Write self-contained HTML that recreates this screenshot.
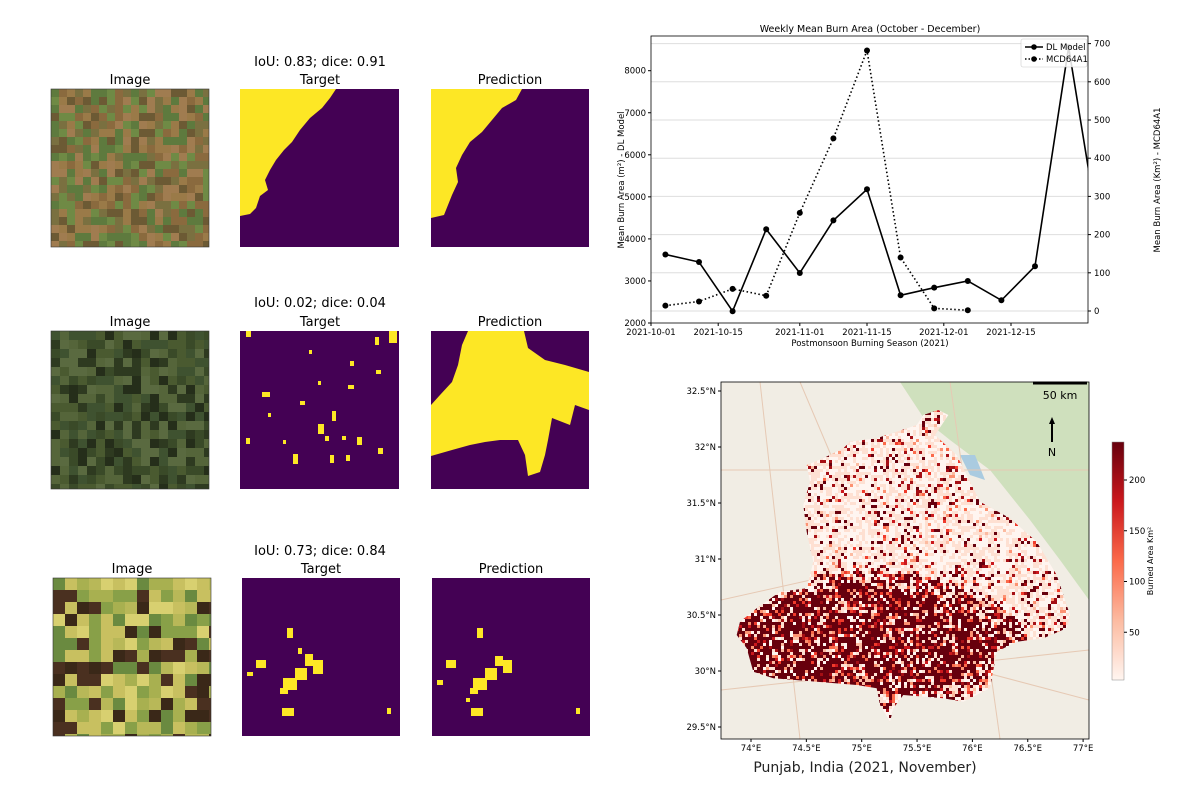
<!DOCTYPE html>
<html><head><meta charset="utf-8"><style>
body{margin:0;background:#fff;}
svg{display:block;font-family:"DejaVu Sans","Liberation Sans",sans-serif;}
</style></head><body>
<svg id="fig" width="1200" height="800" viewBox="0 0 1200 800" xmlns="http://www.w3.org/2000/svg">
<defs>
<clipPath id="lineClip"><rect x="651" y="36" width="437" height="287"/></clipPath>
<clipPath id="mapClip"><rect x="721" y="382" width="368" height="357"/></clipPath>
<clipPath id="punjabClip"><polygon id="punjabPoly" points=""/></clipPath>
<linearGradient id="cbar" x1="0" y1="1" x2="0" y2="0">
<stop offset="0" stop-color="#fff5f0"/><stop offset="0.25" stop-color="#fcbba1"/><stop offset="0.5" stop-color="#fb6a4a"/><stop offset="0.75" stop-color="#cb181d"/><stop offset="1" stop-color="#67000d"/>
</linearGradient>
</defs>

<g id="left-panels" font-size="13" fill="#000" text-anchor="middle">
<text x="320" y="66">IoU: 0.83; dice: 0.91</text>
<text x="130" y="84">Image</text>
<text x="320" y="84">Target</text>
<text x="510" y="84">Prediction</text>
<text x="320" y="307">IoU: 0.02; dice: 0.04</text>
<text x="130" y="326">Image</text>
<text x="320" y="326">Target</text>
<text x="510" y="326">Prediction</text>
<text x="320" y="555">IoU: 0.73; dice: 0.84</text>
<text x="132" y="573">Image</text>
<text x="321" y="573">Target</text>
<text x="511" y="573">Prediction</text>
</g>
<g id="imgs"></g>

<g>
<rect x="240" y="89" width="159" height="158" fill="#440154"/>
<polygon fill="#fde725" points="240,89 336,89 330,98 322,108 310,118 300,130 292,142 284,150 276,160 270,170 265,180 268,190 260,196 256,208 250,214 240,216"/>
</g>
<g>
<rect x="431" y="89" width="158" height="158" fill="#440154"/>
<polygon fill="#fde725" points="431,89 522,89 516,100 502,108 492,120 482,132 470,142 462,155 456,168 458,182 452,195 448,205 444,215 431,218"/>
</g>
<g>
<rect x="240" y="331" width="159" height="158" fill="#440154"/>
<g fill="#fde725">
<rect x="246" y="331" width="5" height="6"/><rect x="389" y="331" width="8" height="12"/><rect x="375" y="337" width="4" height="8"/><rect x="309" y="350" width="3" height="4"/>
<rect x="350" y="361" width="4" height="5"/><rect x="376" y="370" width="5" height="4"/><rect x="348" y="385" width="6" height="4"/><rect x="262" y="392" width="8" height="5"/>
<rect x="318" y="381" width="3" height="4"/><rect x="300" y="401" width="5" height="4"/><rect x="332" y="411" width="4" height="10"/><rect x="318" y="424" width="6" height="10"/>
<rect x="325" y="436" width="4" height="5"/><rect x="357" y="437" width="5" height="8"/><rect x="342" y="436" width="4" height="4"/><rect x="246" y="438" width="4" height="6"/>
<rect x="283" y="440" width="3" height="4"/><rect x="293" y="454" width="5" height="10"/><rect x="330" y="455" width="4" height="8"/><rect x="346" y="455" width="4" height="6"/><rect x="378" y="448" width="5" height="6"/><rect x="268" y="413" width="3" height="4"/>
</g>
</g>
<g>
<rect x="431" y="331" width="158" height="158" fill="#440154"/>
<polygon fill="#fde725" points="468,331 524,331 528,348 545,360 565,365 589,372 589,410 575,405 570,425 552,418 548,440 545,455 540,472 528,476 525,455 518,440 500,440 485,442 470,445 452,450 431,456 431,405 440,395 452,382 458,365 462,345"/>
</g>
<g>
<rect x="242" y="578" width="158" height="158" fill="#440154"/>
<g fill="#fde725">
<rect x="287" y="628" width="6" height="10"/><rect x="305" y="654" width="8" height="12"/><rect x="313" y="660" width="10" height="14"/><rect x="295" y="668" width="12" height="12"/>
<rect x="283" y="678" width="14" height="12"/><rect x="280" y="688" width="8" height="6"/><rect x="256" y="660" width="10" height="8"/><rect x="247" y="672" width="6" height="4"/>
<rect x="282" y="708" width="12" height="8"/><rect x="387" y="708" width="4" height="6"/><rect x="298" y="648" width="4" height="6"/>
</g>
</g>
<g>
<rect x="432" y="578" width="158" height="158" fill="#440154"/>
<g fill="#fde725">
<rect x="477" y="628" width="6" height="10"/><rect x="495" y="656" width="8" height="10"/><rect x="503" y="660" width="9" height="13"/><rect x="485" y="668" width="12" height="12"/>
<rect x="473" y="678" width="14" height="12"/><rect x="470" y="688" width="8" height="6"/><rect x="446" y="660" width="10" height="8"/><rect x="437" y="680" width="6" height="5"/>
<rect x="471" y="708" width="12" height="8"/><rect x="576" y="708" width="4" height="6"/><rect x="466" y="698" width="4" height="4"/>
</g>
</g>

<g id="linechart">
<text x="870" y="32" font-size="9.5" text-anchor="middle">Weekly Mean Burn Area (October - December)</text>
<g id="grid"></g>
<g id="series" clip-path="url(#lineClip)"></g>
<rect x="651" y="36" width="437" height="287" fill="none" stroke="#000" stroke-width="0.8"/>
<g id="axes" font-size="8.5"></g>
<text x="870" y="346" font-size="8.5" text-anchor="middle">Postmonsoon Burning Season (2021)</text>
<text transform="translate(624,180) rotate(-90)" font-size="8.5" text-anchor="middle">Mean Burn Area (m²) - DL Model</text>
<text transform="translate(1160,180) rotate(-90)" font-size="8.5" text-anchor="middle">Mean Burn Area (Km²) - MCD64A1</text>
<g>
<rect x="1021" y="39" width="66" height="28" fill="#fff" fill-opacity="0.85" stroke="#ccc" stroke-width="0.6" rx="2"/>
<line x1="1025" y1="47" x2="1043" y2="47" stroke="#000" stroke-width="1.6"/><circle cx="1034" cy="47" r="2.8"/>
<text x="1046" y="50" font-size="8.5">DL Model</text>
<line x1="1025" y1="59" x2="1043" y2="59" stroke="#000" stroke-width="1.6" stroke-dasharray="1.5,2"/><circle cx="1034" cy="59" r="2.8"/>
<text x="1046" y="62" font-size="8.5">MCD64A1</text>
</g>
</g>

<g id="map">
<g clip-path="url(#mapClip)" id="mapbg"></g>
<g clip-path="url(#punjabClip)" id="mapcells"></g>
<rect x="721" y="382" width="368" height="357" fill="none" stroke="#000" stroke-width="0.8"/>
<g id="mapaxes" font-size="8.5"></g>
<line x1="1033" y1="383" x2="1087" y2="383" stroke="#000" stroke-width="3"/>
<text x="1060" y="399" font-size="11" text-anchor="middle">50 km</text>
<line x1="1052" y1="442" x2="1052" y2="422" stroke="#000" stroke-width="2"/>
<polygon points="1052,417 1049,424 1055,424" fill="#000"/>
<text x="1052" y="456" font-size="11" text-anchor="middle">N</text>
<rect x="1112" y="442" width="12" height="238" fill="url(#cbar)" stroke="#888" stroke-width="0.5"/>
<g id="cbticks" font-size="8.5"></g>
<text transform="translate(1153,561) rotate(-90)" font-size="8" text-anchor="middle">Burned Area Km²</text>
<text x="865" y="772" font-size="14" text-anchor="middle" fill="#222">Punjab, India (2021, November)</text>
</g>
</svg>
<script>
const weekDates = ["2021-10-04","2021-10-11","2021-10-18","2021-10-25","2021-11-01","2021-11-08","2021-11-15","2021-11-22","2021-11-29","2021-12-06","2021-12-13","2021-12-20","2021-12-27","2022-01-03"];
const dlModel = [3630,3450,2280,4230,3190,4440,5180,2660,2840,3000,2540,3350,8560,3650];
const mcdDates = ["2021-10-04","2021-10-11","2021-10-18","2021-10-25","2021-11-01","2021-11-08","2021-11-15","2021-11-22","2021-11-29","2021-12-06"];
const mcd64a1 = [14,25,58,40,257,452,682,140,7,2];
const xTickLabels = ["2021-10-01","2021-10-15","2021-11-01","2021-11-15","2021-12-01","2021-12-15"];
const leftTicks = [2000,3000,4000,5000,6000,7000,8000];
const rightTicks = [0,100,200,300,400,500,600,700];
const colorbarTicks = [50,100,150,200];
const latTicks = [29.5,30,30.5,31,31.5,32,32.5];
const lonTicks = [74,74.5,75,75.5,76,76.5,77];

const NS="http://www.w3.org/2000/svg";
function mk(tag,attrs,parent){const e=document.createElementNS(NS,tag);for(const k in attrs)e.setAttribute(k,attrs[k]);parent.appendChild(e);return e;}
const t0=Date.parse("2021-10-01");
const xS=d=>651+(Date.parse(d)-t0)/86400000*4.8;
const yL=v=>323-(v-2000)*0.04205;
const yR=v=>311-v*0.382;

const grid=document.getElementById('grid'),axes=document.getElementById('axes'),series=document.getElementById('series');
rightTicks.forEach(v=>{
  const g=mk('line',{x1:651,x2:1088,y1:yR(v),y2:yR(v),stroke:'#dedede','stroke-width':1},grid);
  
  
  mk('line',{x1:1088,x2:1091,y1:yR(v),y2:yR(v),stroke:'#000'},axes);
  const t=mk('text',{x:1094,y:yR(v)+3},axes);t.textContent=v;
  
  
});
leftTicks.forEach(v=>{
  mk('line',{x1:648,x2:651,y1:yL(v),y2:yL(v),stroke:'#000'},axes);
  const t=mk('text',{x:646,y:yL(v)+3,'text-anchor':'end'},axes);t.textContent=v;
  
  
});
xTickLabels.forEach(d=>{
  mk('line',{x1:xS(d),x2:xS(d),y1:323,y2:326,stroke:'#000'},axes);
  const t=mk('text',{x:xS(d),y:335,'text-anchor':'middle'},axes);t.textContent=d;
  
  
});
const p1=mk('polyline',{points:weekDates.map((d,i)=>xS(d)+','+yL(dlModel[i])).join(' '),fill:'none',stroke:'#000','stroke-width':1.6},series);


weekDates.forEach((d,i)=>{const c=mk('circle',{cx:xS(d),cy:yL(dlModel[i]),r:3},series);
  
  });
const p2=mk('polyline',{points:mcdDates.map((d,i)=>xS(d)+','+yR(mcd64a1[i])).join(' '),fill:'none',stroke:'#000','stroke-width':1.6,'stroke-dasharray':'1.5,2.5'},series);


mcdDates.forEach((d,i)=>{const c=mk('circle',{cx:xS(d),cy:yR(mcd64a1[i]),r:3},series);
  
  });

let seed=12345;function rnd(){seed=(seed*1103515245+12345)&0x7fffffff;return seed/0x7fffffff;}
const imgs=document.getElementById('imgs');
function texture(x,y,w,h,pal,name,cell){
  const g=mk('g',{},imgs);
  
  
  mk('rect',{x,y,width:w,height:h,fill:pal[0]},g);
  for(let i=0;i<w;i+=cell)for(let j=0;j<h;j+=cell){
    mk('rect',{x:x+i,y:y+j,width:Math.min(cell,w-i),height:Math.min(cell,h-j),fill:pal[Math.floor(rnd()*pal.length)]},g);
  }
  mk('rect',{x,y,width:w,height:h,fill:'none',stroke:'#333','stroke-width':0.6},g);
}
texture(51,89,158,158,["#8a6a3e","#7a7040","#6f8a45","#9a7a48","#5e7a3e","#a07c50","#6c5a34"],'row1-satellite-image',8);
texture(51,331,158,158,["#3a4a28","#2e3a20","#4a5a30","#55653a","#252e1a","#3f5230","#5a6a40"],'row2-satellite-image',9);
texture(53,578,158,158,["#c8c060","#a8b050","#6a8a40","#d8d070","#4a3020","#88a048","#b8b858","#3a2818"],'row3-satellite-image',12);

const bg=document.getElementById('mapbg');
mk('rect',{x:721,y:382,width:368,height:357,fill:'#f1ede4'},bg);
mk('polygon',{points:'900,382 1089,382 1089,600 1060,560 1030,520 990,470 950,440 925,420',fill:'#cfe0bd'},bg);
mk('polygon',{points:'960,455 975,455 985,480 970,475',fill:'#aacbe0'},bg);
[[721,470,1089,470],[760,382,800,739],[721,600,900,560],[800,382,850,500],[900,650,1089,700],[721,690,1089,650],[950,382,1000,739]].forEach(l=>mk('line',{x1:l[0],y1:l[1],x2:l[2],y2:l[3],stroke:'#e6c9b4','stroke-width':1},bg));
const pz=[[745,105],[775,120],[735,180],[800,240],[830,300],[870,380],[960,430],[1040,500],[1100,600],[1140,720],[1130,760],[1060,790],[980,800],[920,830],[900,940],[820,980],[760,970],[640,960],[610,1000],[600,1040],[570,990],[560,940],[500,930],[380,920],[250,910],[190,890],[170,820],[140,780],[150,740],[200,700],[270,650],[350,640],[370,560],[350,470],[340,390],[360,320],[350,270],[400,250],[460,220],[480,200],[560,190],[620,170],[680,150],[700,120]];
document.getElementById('punjabPoly').setAttribute('points',pz.map(p=>(690+p[0]/3).toFixed(1)+','+(375+p[1]/3).toFixed(1)).join(' '));
const cells=document.getElementById('mapcells');
const reds=["#fff5f0","#fee0d2","#fcbba1","#fc9272","#fb6a4a","#ef3b2c","#cb181d","#a50f15","#67000d"];
mk('rect',{x:721,y:382,width:368,height:357,fill:'#f6e4de'},cells);
for(let x=721;x<1089;x+=3)for(let y=382;y<739;y+=3){
  const dx=(x-860)/130, dy=(y-640)/55;
  const d=dx*dx+dy*dy;
  const pd=d<1?0.6:d<1.6?0.35:0.07;
  let p=rnd();let idx;
  if(p<pd)idx=8;else if(p<pd+0.05)idx=7;else if(p<pd+(d<1.6?0.25:0.1))idx=Math.floor(rnd()*5)+2;else idx=Math.floor(rnd()*2);
  mk('rect',{x,y,width:3,height:3,fill:reds[idx]},cells);
}
const ma=document.getElementById('mapaxes');
latTicks.forEach(v=>{const y=727-(v-29.5)*112;
  mk('line',{x1:718,x2:721,y1:y,y2:y,stroke:'#000'},ma);
  const t=mk('text',{x:716,y:y+3,'text-anchor':'end'},ma);t.textContent=v+'°N';
  
  });
lonTicks.forEach(v=>{const x=751+(v-74)*110.7;
  mk('line',{x1:x,x2:x,y1:739,y2:742,stroke:'#000'},ma);
  const t=mk('text',{x:x,y:751,'text-anchor':'middle'},ma);t.textContent=v+'°E';
  
  });
const cb=document.getElementById('cbticks');
colorbarTicks.forEach(v=>{const y=683-v*1.015;
  mk('line',{x1:1124,x2:1127,y1:y,y2:y,stroke:'#000'},cb);
  const t=mk('text',{x:1129,y:y+3},cb);t.textContent=v;
  
  });
</script>
</body></html>
